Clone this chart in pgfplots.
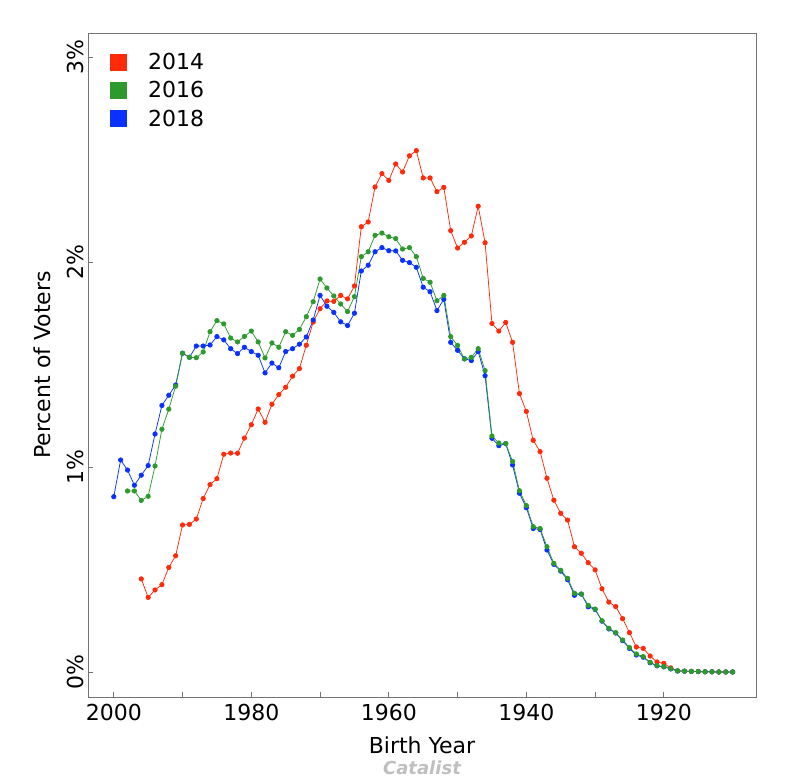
\documentclass[border=0pt]{standalone}
\usepackage{pgfplots}
\pgfplotsset{compat=1.18}
\usepackage{pgfplotstable}
\usepackage{fontspec}
\setmainfont{DejaVu Sans}
\newcommand\bigf{\fontsize{22}{26}\selectfont}
\definecolor{cRed}{HTML}{FF2A0A}
\definecolor{cGreen}{HTML}{2C9A2C}
\definecolor{cBlue}{HTML}{0A32FF}

\pgfplotstableread{
year val
1996 0.454
1995 0.364
1994 0.400
1993 0.426
1992 0.510
1991 0.567
1990 0.717
1989 0.720
1988 0.746
1987 0.846
1986 0.914
1985 0.943
1984 1.062
1983 1.068
1982 1.067
1981 1.141
1980 1.206
1979 1.283
1978 1.218
1977 1.306
1976 1.353
1975 1.389
1974 1.443
1973 1.480
1972 1.594
1971 1.707
1970 1.772
1969 1.810
1968 1.808
1967 1.837
1966 1.820
1965 1.883
1964 2.172
1963 2.195
1962 2.366
1961 2.431
1960 2.398
1959 2.478
1958 2.439
1957 2.518
1956 2.543
1955 2.410
1954 2.410
1953 2.343
1952 2.364
1951 2.153
1950 2.068
1949 2.096
1948 2.127
1947 2.272
1946 2.094
1945 1.700
1944 1.663
1943 1.705
1942 1.608
1941 1.358
1940 1.271
1939 1.130
1938 1.075
1937 0.945
1936 0.838
1935 0.774
1934 0.741
1933 0.611
1932 0.579
1931 0.533
1930 0.498
1929 0.406
1928 0.341
1927 0.319
1926 0.260
1925 0.192
1924 0.122
1923 0.115
1922 0.078
1921 0.049
1920 0.042
1919 0.020
1918 0.006
1917 0.004
1916 0.003
1915 0.002
1914 0.001
1913 0.001
1912 0.000
1911 0.000
1910 0.000
}\tabA

\pgfplotstableread{
year val
1998 0.883
1997 0.883
1996 0.837
1995 0.857
1994 1.005
1993 1.184
1992 1.282
1991 1.394
1990 1.555
1989 1.535
1988 1.533
1987 1.561
1986 1.660
1985 1.714
1984 1.698
1983 1.629
1982 1.610
1981 1.637
1980 1.663
1979 1.610
1978 1.532
1977 1.605
1976 1.584
1975 1.660
1974 1.642
1973 1.671
1972 1.733
1971 1.806
1970 1.917
1969 1.873
1968 1.834
1967 1.795
1966 1.758
1965 1.831
1964 2.026
1963 2.050
1962 2.130
1961 2.141
1960 2.123
1959 2.114
1958 2.063
1957 2.070
1956 2.026
1955 1.920
1954 1.901
1953 1.811
1952 1.837
1951 1.636
1950 1.593
1949 1.527
1948 1.535
1947 1.577
1946 1.470
1945 1.151
1944 1.117
1943 1.114
1942 1.027
1941 0.884
1940 0.812
1939 0.709
1938 0.700
1937 0.611
1936 0.530
1935 0.496
1934 0.457
1933 0.384
1932 0.380
1931 0.325
1930 0.307
1929 0.250
1928 0.213
1927 0.192
1926 0.156
1925 0.119
1924 0.088
1923 0.075
1922 0.047
1921 0.031
1920 0.026
1919 0.016
1918 0.005
1917 0.004
1916 0.003
1915 0.002
1914 0.001
1913 0.001
1912 0.000
1911 0.000
1910 0.000
}\tabB

\pgfplotstableread{
year val
2000 0.855
1999 1.034
1998 0.985
1997 0.911
1996 0.960
1995 1.007
1994 1.161
1993 1.300
1992 1.350
1991 1.400
1990 1.555
1989 1.535
1988 1.590
1987 1.590
1986 1.595
1985 1.636
1984 1.620
1983 1.577
1982 1.553
1981 1.584
1980 1.563
1979 1.545
1978 1.459
1977 1.507
1976 1.484
1975 1.563
1974 1.577
1973 1.599
1972 1.634
1971 1.717
1970 1.837
1969 1.784
1968 1.754
1967 1.708
1966 1.690
1965 1.750
1964 1.956
1963 1.984
1962 2.050
1961 2.070
1960 2.055
1959 2.054
1958 2.008
1957 1.997
1956 1.974
1955 1.877
1954 1.855
1953 1.763
1952 1.818
1951 1.608
1950 1.569
1949 1.528
1948 1.519
1947 1.563
1946 1.445
1945 1.140
1944 1.104
1943 1.114
1942 1.010
1941 0.872
1940 0.801
1939 0.700
1938 0.695
1937 0.595
1936 0.525
1935 0.492
1934 0.450
1933 0.374
1932 0.380
1931 0.318
1930 0.305
1929 0.248
1928 0.210
1927 0.190
1926 0.153
1925 0.115
1924 0.083
1923 0.072
1922 0.045
1921 0.030
1920 0.025
1919 0.015
1918 0.005
1917 0.004
1916 0.003
1915 0.002
1914 0.001
1913 0.001
1912 0.000
1911 0.000
1910 0.000
}\tabC

\begin{document}
\begin{tikzpicture}
\begin{axis}[
  scale only axis, width=668pt, height=664pt,
  x dir=reverse,
  xmin=1906.6, xmax=2003.75,
  ymin=-0.122, ymax=3.117,
  xtick={1920,1940,1960,1980,2000},
  minor xtick={1930,1950,1970,1990},
  ytick={0,1,2,3}, yticklabels={0\%,1\%,2\%,3\%},
  tick align=inside, tick pos=left,
  major tick length=5pt, minor tick length=5pt,
  axis line style={black!55, line width=0.9pt},
  every tick/.style={black!55, line width=0.8pt},
  /pgf/number format/assume math mode=true,
  xticklabel style={/pgf/number format/1000 sep={}, font=\bigf, inner sep=7pt},
  yticklabel style={rotate=90, anchor=south, font=\bigf, inner sep=4pt},
  xlabel={Birth Year}, ylabel={Percent of Voters},
  xlabel style={at={(axis description cs:0.5,-0.0723)}, anchor=center, font=\bigf},
  ylabel style={at={(axis description cs:-0.0689,0.5)}, anchor=center, font=\bigf},
  legend style={at={(axis description cs:0,1)}, anchor=north west,
    xshift=22pt, yshift=-20pt, draw=none, fill=none, inner sep=0pt,
    row sep=10.5pt, font=\bigf, nodes={inner sep=0pt},
    /tikz/every odd column/.append style={column sep=21pt}},
  legend cell align=left,
  every axis plot/.append style={line width=0.75pt, mark=*, mark size=2.2pt},
]
\addlegendimage{draw=none, fill=cRed, legend image code/.code={\fill[cRed] (0pt,-8.5pt) rectangle (17pt,8.5pt);}}
\addlegendentry{2014}
\addlegendimage{draw=none, fill=cGreen, legend image code/.code={\fill[cGreen] (0pt,-8.5pt) rectangle (17pt,8.5pt);}}
\addlegendentry{2016}
\addlegendimage{draw=none, fill=cBlue, legend image code/.code={\fill[cBlue] (0pt,-8.5pt) rectangle (17pt,8.5pt);}}
\addlegendentry{2018}
\addplot[color=cRed, forget plot] table[x=year, y=val] {\tabA};
\addplot[color=cBlue, forget plot] table[x=year, y=val] {\tabC};
\addplot[color=cGreen, forget plot] table[x=year, y=val] {\tabB};
\end{axis}
\node[font=\bfseries\itshape\fontsize{18}{20}\selectfont, text=black!25] at (334pt,-71pt) {Catalist};
\pgfresetboundingbox
\useasboundingbox (-88pt,-86pt) rectangle (698pt,697pt);
\end{tikzpicture}
\end{document}
